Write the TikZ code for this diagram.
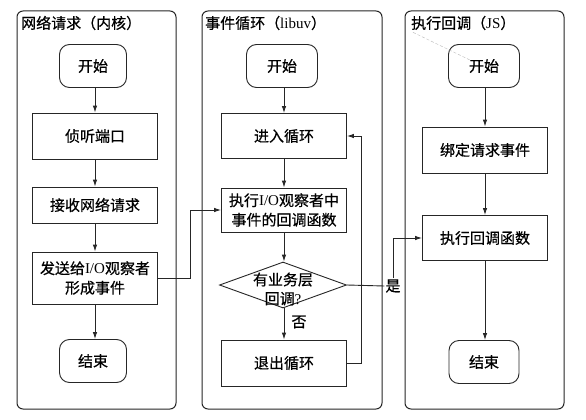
\documentclass[tikz,border=0pt]{standalone}
\usepackage{fontspec}
\setmainfont{Liberation Serif}
\newfontfamily\cjk{Noto Sans CJK SC}[FakeBold=0.6]
\newfontfamily\latin{Liberation Serif}
\newcommand\latx[1]{{\latin #1}}
\usetikzlibrary{shapes.geometric,arrows.meta,calc}
\tikzset{
  lane/.style={draw=black!85, line width=1pt, rounded corners=6pt},
  lanetitle/.style={anchor=west, inner sep=0pt, font=\cjk\fontsize{15}{18}\selectfont},
  proc/.style={draw=black!85, line width=0.9pt, minimum width=125pt, align=center, inner sep=2pt,
    font=\cjk\fontsize{15}{19.5}\selectfont},
  term/.style={draw=black!85, line width=0.9pt, rounded corners=10pt, minimum width=67pt,
    minimum height=43pt, font=\cjk\fontsize{15}{18}\selectfont},
  decis/.style={draw=black!85, line width=0.9pt, diamond, minimum width=127pt, minimum height=46pt, inner sep=0pt},
  lbl/.style={font=\cjk\fontsize{15}{18}\selectfont, inner sep=1pt},
  flow/.style={draw=black!85, line width=0.9pt, -{Latex[length=7pt,width=4.5pt]}},
}
\begin{document}
\begin{tikzpicture}[x=1pt,y=-1pt]
\useasboundingbox[fill=white] (0,0) rectangle (586,420);
% lanes
\draw[lane] (17,11) rectangle (176,409);
\draw[lane] (202,11) rectangle (382,409);
\draw[lane] (405,11) rectangle (564,409);
\node[lanetitle] (t1) at (21,23) {网络请求（内核）};
\node[lanetitle] (t2) at (205,23) {事件循环（\latx{libuv}）};
\node[lanetitle] (t3) at (411,23) {执行回调（\latx{JS}）};
% lane 1
\node[term] (s1) at (93,66) {开始};
\node[proc, minimum height=46pt] (a1) at (95,136) {侦听端口};
\node[proc, minimum height=36pt] (a2) at (95,205) {接收网络请求};
\node[proc, minimum height=52pt] (a3) at (95,278) {发送给\latx{I/O}观察者\\形成事件};
\node[term] (e1) at (93,361) {结束};
% lane 2
\node[term, minimum width=71pt] (s2) at (282,66) {开始};
\node[proc, minimum height=45pt] (b1) at (284,136) {进入循环};
\node[proc, minimum height=44pt] (b2) at (284,210) {执行\latx{I/O}观察者中\\事件的回调函数};
\node[decis] (dia) at (283,285) {};
\node[align=center, font=\cjk\fontsize{15}{19}\selectfont, inner sep=0pt] (diat) at (283,289) {有业务层\\回调\latx{?}};
\node[proc, minimum height=46pt] (b3) at (284,363) {退出循环};
\node[lbl] (no) at (299,322) {否};
% lane 3
\node[term, minimum width=71pt] (s3) at (484,66) {开始};
\node[proc, minimum height=46pt] (c1) at (485,150) {绑定请求事件};
\node[proc, minimum height=45pt] (c2) at (485,238) {执行回调函数};
\node[term, minimum width=70pt] (e3) at (484,362) {结束};
\node[lbl, fill=white] (yes) at (393,286) {是};
% junction coordinates
\coordinate (j1) at (190,0);
\coordinate (j2) at (361,0);
\coordinate (f1) at ($(t3.south west)+(2,2)$);
\coordinate (f2) at ($(s3.north west)+(22,16)$);
% connectors lane 1
\draw[flow] (s1.south -| a1.north) -- (a1.north);
\draw[flow] (a1) -- (a2);
\draw[flow] (a2) -- (a3);
\draw[flow] (a3.south) -- (e1.north -| a3.south);
% lane 2
\draw[flow] (s2.south -| b1.north) -- (b1.north);
\draw[flow] (b1) -- (b2);
\draw[flow] (b2.south) -- (dia.north -| b2.south);
\draw[flow] (dia.south -| b3.north) -- (b3.north);
\draw[flow] (b3.east) -- (b3.east -| j2) |- (b1.east);
% lane 3
\draw[flow] (s3.south -| c1.north) -- (c1.north);
\draw[flow] (c1) -- (c2);
\draw[flow] (c2.south) -- (e3.north -| c2.south);
% cross-lane
\draw[flow] (a3.east) -- (a3.east -| j1) |- (b2.west);
\draw[draw=black!85, line width=0.9pt] (dia.east) -- (yes.west);
\draw[flow] (yes.north) |- (c2.west);
% faint stray line
\draw[gray!55, line width=0.4pt, densely dashed] (f1) -- (f2);
\end{tikzpicture}
\end{document}
